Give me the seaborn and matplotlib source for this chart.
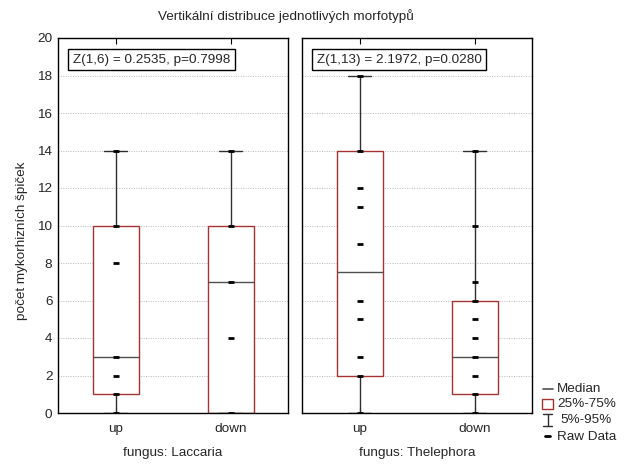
import matplotlib
matplotlib.use("Agg")
import matplotlib.pyplot as plt
from matplotlib.lines import Line2D
from matplotlib.patches import Rectangle
import seaborn as sns
import pandas as pd

sns.set_style("white")
plt.rcParams["font.family"] = ["Liberation Sans", "DejaVu Sans"]

# Categories and panels
fungi = ["Laccaria", "Thelephora"]
positions = ["up", "down"]

# Raw counts per group
laccaria_up = [0, 1, 2, 3, 8, 10, 14]
laccaria_down = [0, 4, 7, 10, 14]
thelephora_up = [0, 2, 3, 5, 6, 9, 11, 12, 14, 18]
thelephora_down = [0, 1, 2, 3, 4, 5, 6, 7, 10, 14]

# Box summaries: 5%, 25%, median, 75%, 95%
laccaria_up_stats = [0, 1, 3, 10, 14]
laccaria_down_stats = [0, 0, 7, 10, 14]
thelephora_up_stats = [0, 2, 7.5, 14, 18]
thelephora_down_stats = [0, 1, 3, 6, 14]

test_labels = ["Z(1,6) = 0.2535, p=0.7998", "Z(1,13) = 2.1972, p=0.0280"]
y_ticks = list(range(0, 21, 2))

raw = {
    "Laccaria": {"up": laccaria_up, "down": laccaria_down},
    "Thelephora": {"up": thelephora_up, "down": thelephora_down},
}
stats = {
    "Laccaria": {"up": laccaria_up_stats, "down": laccaria_down_stats},
    "Thelephora": {"up": thelephora_up_stats, "down": thelephora_down_stats},
}

W, H = 632, 466
fig = plt.figure(figsize=(W / 100, H / 100), dpi=100)


def fx(x):
    return x / W


def fy(y):
    return 1 - y / H


BOX_RED = "#a83232"
MED_GRAY = "#505050"
WHISK = "#303030"
FS = 9.7

ax_left = [58, 302]
ax_w = 230
top, bottom = 38, 413

for i, fungus in enumerate(fungi):
    ax = fig.add_axes([fx(ax_left[i]), fy(bottom), ax_w / W, (bottom - top) / H])
    rows = [(p, v) for p in positions for v in raw[fungus][p]]
    df = pd.DataFrame(rows, columns=["position", "count"])

    bxp_stats = []
    for p in positions:
        lo, q1, med, q3, hi = stats[fungus][p]
        bxp_stats.append(dict(whislo=lo, q1=q1, med=med, q3=q3, whishi=hi, fliers=[], label=p))
    ax.bxp(
        bxp_stats, positions=range(len(positions)), widths=0.4, showfliers=False,
        patch_artist=True,
        boxprops=dict(facecolor="white", edgecolor=BOX_RED, linewidth=1.0),
        medianprops=dict(color=MED_GRAY, linewidth=1.0),
        whiskerprops=dict(color=WHISK, linewidth=1.0),
        capprops=dict(color=WHISK, linewidth=1.0),
        capwidths=0.2, zorder=2,
    )
    sns.stripplot(
        data=df, x="position", y="count", order=positions, ax=ax,
        jitter=False, marker="_", s=5, linewidth=2, color="black", zorder=4,
    )

    ax.set_xlim(-0.5, 1.5)
    ax.set_ylim(0, 20)
    ax.set_yticks(y_ticks)
    ax.yaxis.grid(True, linestyle=(0, (1, 1.5)), color="#b8b8b8", linewidth=0.7)
    ax.set_axisbelow(True)
    ax.set_xticks(range(len(positions)))
    ax.set_xticklabels(positions, fontsize=FS)
    ax.tick_params(axis="x", direction="in", top=True, bottom=True, length=4,
                   pad=7, color="black")
    ax.tick_params(axis="y", direction="in", left=True, right=False, length=0,
                   labelsize=FS, pad=4)
    if i == 0:
        ax.set_ylabel("počet mykorhizních špiček", fontsize=FS)
        ax.yaxis.set_label_coords(-0.13, 0.459)
    else:
        ax.set_ylabel("")
        ax.set_yticklabels([])
    ax.set_xlabel(f"fungus: {fungus}", fontsize=FS, labelpad=9)
    for s in ax.spines.values():
        s.set_color("black")
        s.set_linewidth(1.0)
        s.set_visible(True)
    ax.text(0.064, 0.958, test_labels[i], transform=ax.transAxes, ha="left", va="top",
            fontsize=FS, zorder=6,
            bbox=dict(boxstyle="square,pad=0.35", facecolor="white", edgecolor="black",
                      linewidth=1.0))

fig.text(fx(286), fy(16), "Vertikální distribuce jednotlivých morfotypů",
         ha="center", va="center", fontsize=FS)

# Legend
tx = 557
fig.add_artist(Line2D([fx(543), fx(553)], [fy(389), fy(389)], color=MED_GRAY, lw=1.2))
fig.text(fx(tx), fy(389), "Median", ha="left", va="center", fontsize=FS)
fig.add_artist(Rectangle((fx(542), fy(409)), 11 / W, 10 / H, facecolor="white",
                         edgecolor=BOX_RED, lw=1.0))
fig.text(fx(tx), fy(404), "25%-75%", ha="left", va="center", fontsize=FS)
fig.add_artist(Line2D([fx(547.5), fx(547.5)], [fy(414), fy(426)], color=WHISK, lw=1.0))
fig.add_artist(Line2D([fx(543), fx(552)], [fy(414), fy(414)], color=WHISK, lw=1.0))
fig.add_artist(Line2D([fx(543), fx(552)], [fy(426), fy(426)], color=WHISK, lw=1.0))
fig.text(fx(tx + 3), fy(420), "5%-95%", ha="left", va="center", fontsize=FS)
fig.add_artist(Line2D([fx(545), fx(550)], [fy(436), fy(436)], color="black", lw=2))
fig.text(fx(tx), fy(437), "Raw Data", ha="left", va="center", fontsize=FS)

fig.savefig("out.png", dpi=100)
